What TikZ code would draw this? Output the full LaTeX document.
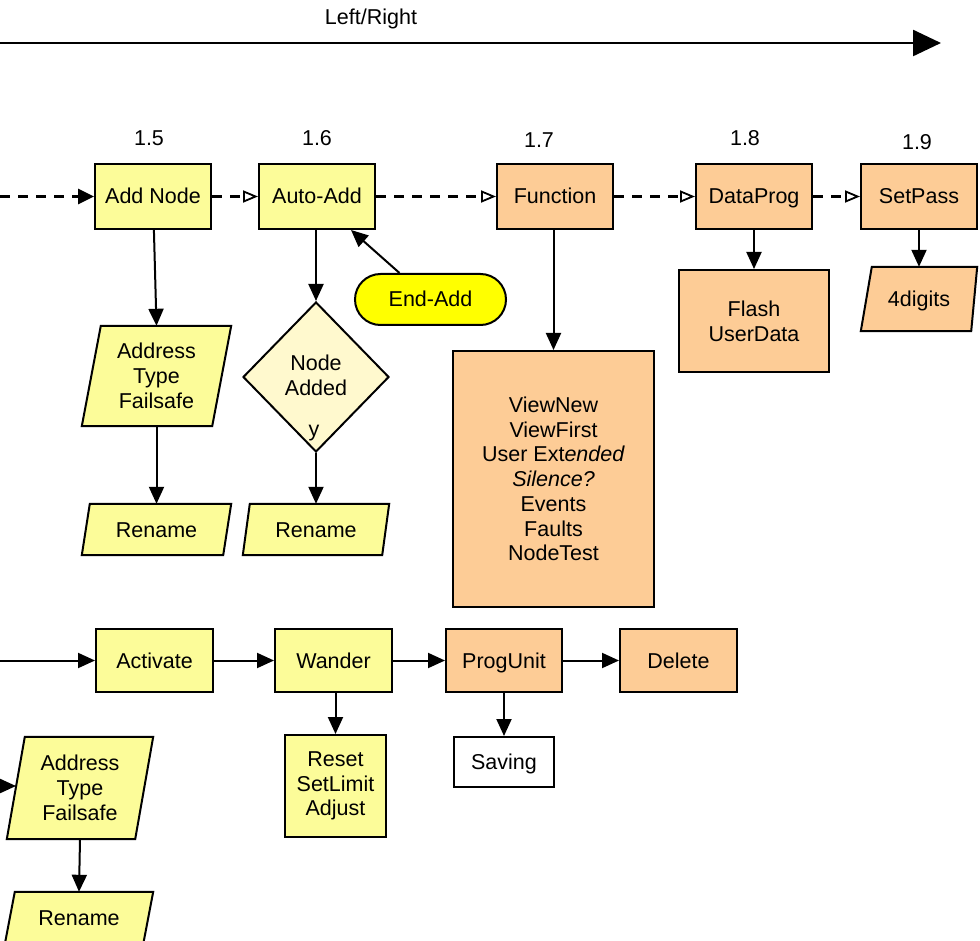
\documentclass[tikz,border=0pt]{standalone}
\usepackage{fontspec}
\setmainfont{Liberation Sans}
\usetikzlibrary{arrows.meta,shapes.geometric,shapes.misc}
\definecolor{ylw}{RGB}{252,252,153}
\definecolor{org}{RGB}{253,204,150}
\definecolor{cream}{RGB}{255,249,206}
\definecolor{brt}{RGB}{255,255,0}
\begin{document}
\begin{tikzpicture}[x=1pt,y=-1pt,
  every node/.style={font=\fontsize{21.5}{24.7}\selectfont, align=center, inner sep=0pt},
  sl/.style={text height=17pt, text depth=2pt},
  box/.style={draw=black, line width=2pt, rectangle},
  ybox/.style={box, fill=ylw},
  obox/.style={box, fill=org},
  topbox/.style={sl, minimum width=116pt, minimum height=65pt},
  botbox/.style={sl, minimum width=117pt, minimum height=63pt},
  ptext/.style={rectangle, draw=none},
  pshape/.style={draw=black, line width=2pt, line join=miter},
  conn/.style={line width=2pt, -{Triangle[length=17pt,width=15pt]}},
  dconn/.style={line width=3pt, dash pattern=on 10pt off 8pt, -{Triangle[open,length=15pt,width=12pt,line width=1.8pt]}},
  dconnf/.style={line width=3pt, dash pattern=on 10pt off 8pt, -{Triangle[length=16pt,width=15pt]}},
  lbl/.style={sl}
]
\useasboundingbox (0,0) rectangle (980,941);

% Left/Right arrow
\coordinate (lr0) at (0,43);
\coordinate (lr1) at (941,43);
\draw[line width=2.5pt, -{Triangle[length=28pt,width=26pt]}] (lr0) -- (lr1);
\node[lbl] (lrlabel) at (371,17) {Left/Right};

% numbers
\node[lbl] (n15) at (149,138) {1.5};
\node[lbl] (n16) at (317,138) {1.6};
\node[lbl] (n17) at (539,140) {1.7};
\node[lbl] (n18) at (745,138) {1.8};
\node[lbl] (n19) at (917,142) {1.9};

% top row
\node[ybox, topbox] (addnode) at (153,196.5) {Add Node};
\node[ybox, topbox] (autoadd) at (317,196.5) {Auto-Add};
\node[obox, topbox] (function) at (555,196.5) {Function};
\node[obox, topbox] (dataprog) at (754,196.5) {DataProg};
\node[obox, topbox] (setpass) at (919,196.5) {SetPass};

\coordinate (dstart) at (0,196.5);
\draw[dconnf] (dstart) -- (addnode.west);
\draw[dconn] (addnode) -- (autoadd);
\draw[dconn] (autoadd) -- (function);
\draw[dconn] (function) -- (dataprog);
\draw[dconn] (dataprog) -- (setpass);

% parallelogram address 1
\node[ptext, minimum width=149pt, minimum height=100pt] (addr1) at (156.5,376) {};
\draw[pshape, fill=ylw] ([xshift=19pt]addr1.north west) -- (addr1.north east) -- ([xshift=-19pt]addr1.south east) -- (addr1.south west) -- cycle;
\node at (addr1) {Address\\Type\\Failsafe};

\node[ptext, minimum width=149pt, minimum height=51pt] (ren1) at (156.5,529.5) {};
\draw[pshape, fill=ylw] ([xshift=8pt]ren1.north west) -- (ren1.north east) -- ([xshift=-8pt]ren1.south east) -- (ren1.south west) -- cycle;
\node[sl] at (ren1) {Rename};

\draw[conn] (addnode) -- (addr1.north);
\draw[conn] (addr1.south) -- (ren1.north);

% diamond
\node[diamond, draw=black, line width=2pt, fill=cream, minimum width=146pt, minimum height=150pt] (added) at (316,377) {};
\node (addedtxt) at (316,375.5) {Node\\Added};
\node (ylabel) at (314,433) {y};

\node[ptext, minimum width=146pt, minimum height=51pt] (ren2) at (316,529.5) {};
\draw[pshape, fill=ylw] ([xshift=7pt]ren2.north west) -- (ren2.north east) -- ([xshift=-7pt]ren2.south east) -- (ren2.south west) -- cycle;
\node[sl] at (ren2) {Rename};

\draw[conn] (autoadd.south -| added.north) -- (added.north);
\draw[conn] (added.south) -- (ren2.north);

% End-Add
\node[sl, rounded rectangle, draw=black, line width=2pt, fill=brt, minimum width=151pt, minimum height=51pt] (endadd) at (430.5,299.5) {End-Add};
\draw[conn] ([xshift=-31pt]endadd.north) -- ([xshift=-25pt]autoadd.south east);

% Function list
\node[obox, minimum width=201pt, minimum height=256pt] (funclist) at (553.5,479) {ViewNew\\ViewFirst\\User Ext\textit{ended}\\\textit{Silence?}\\Events\\Faults\\NodeTest};
\draw[conn] (function.south -| funclist.north) -- (funclist.north);

% Flash
\node[obox, minimum width=150pt, minimum height=102pt] (flash) at (754,321) {Flash\\UserData};
\draw[conn] (dataprog) -- (flash);

% 4digits
\node[ptext, minimum width=116pt, minimum height=64pt] (digits) at (919,299) {};
\draw[pshape, fill=org] ([xshift=11pt]digits.north west) -- (digits.north east) -- ([xshift=-6pt]digits.south east) -- (digits.south west) -- cycle;
\node[sl] at (digits) {4digits};
\draw[conn] (setpass) -- (digits.north);

% bottom row
\node[ybox, botbox] (activate) at (154.5,660.5) {Activate};
\node[ybox, botbox] (wander) at (333.5,660.5) {Wander};
\node[obox, botbox, minimum width=116pt] (progunit) at (504,660.5) {ProgUnit};
\node[obox, botbox] (delete) at (678.5,660.5) {Delete};

\coordinate (bstart) at (0,660.5);
\draw[conn] (bstart) -- (activate);
\draw[conn] (activate) -- (wander);
\draw[conn] (wander) -- (progunit);
\draw[conn] (progunit) -- (delete);

\node[ybox, minimum width=101pt, minimum height=102pt] (reset) at (335.5,786) {Reset\\SetLimit\\Adjust};
\draw[conn] (wander.south -| reset.north) -- (reset.north);

\node[box, sl, fill=white, minimum width=100pt, minimum height=50pt] (saving) at (504,762) {Saving};
\draw[conn] (progunit) -- (saving);

% bottom-left parallelograms
\node[ptext, minimum width=146pt, minimum height=102pt] (addr2) at (80,788) {};
\draw[pshape, fill=ylw] ([xshift=18pt]addr2.north west) -- (addr2.north east) -- ([xshift=-18pt]addr2.south east) -- (addr2.south west) -- cycle;
\node at (addr2) {Address\\Type\\Failsafe};

\node[ptext, minimum width=148pt, minimum height=52pt] (ren3) at (79,918) {};
\draw[pshape, fill=ylw] ([xshift=10pt]ren3.north west) -- (ren3.north east) -- ([xshift=-10pt]ren3.south east) -- (ren3.south west) -- cycle;
\node[sl] at (ren3) {Rename};
\draw[conn] (addr2.south) -- (ren3.north);

\coordinate (lstart) at (0,786);
\coordinate (lend) at (16,786);
\draw[conn] (lstart) -- (lend);
\end{tikzpicture}
\end{document}
